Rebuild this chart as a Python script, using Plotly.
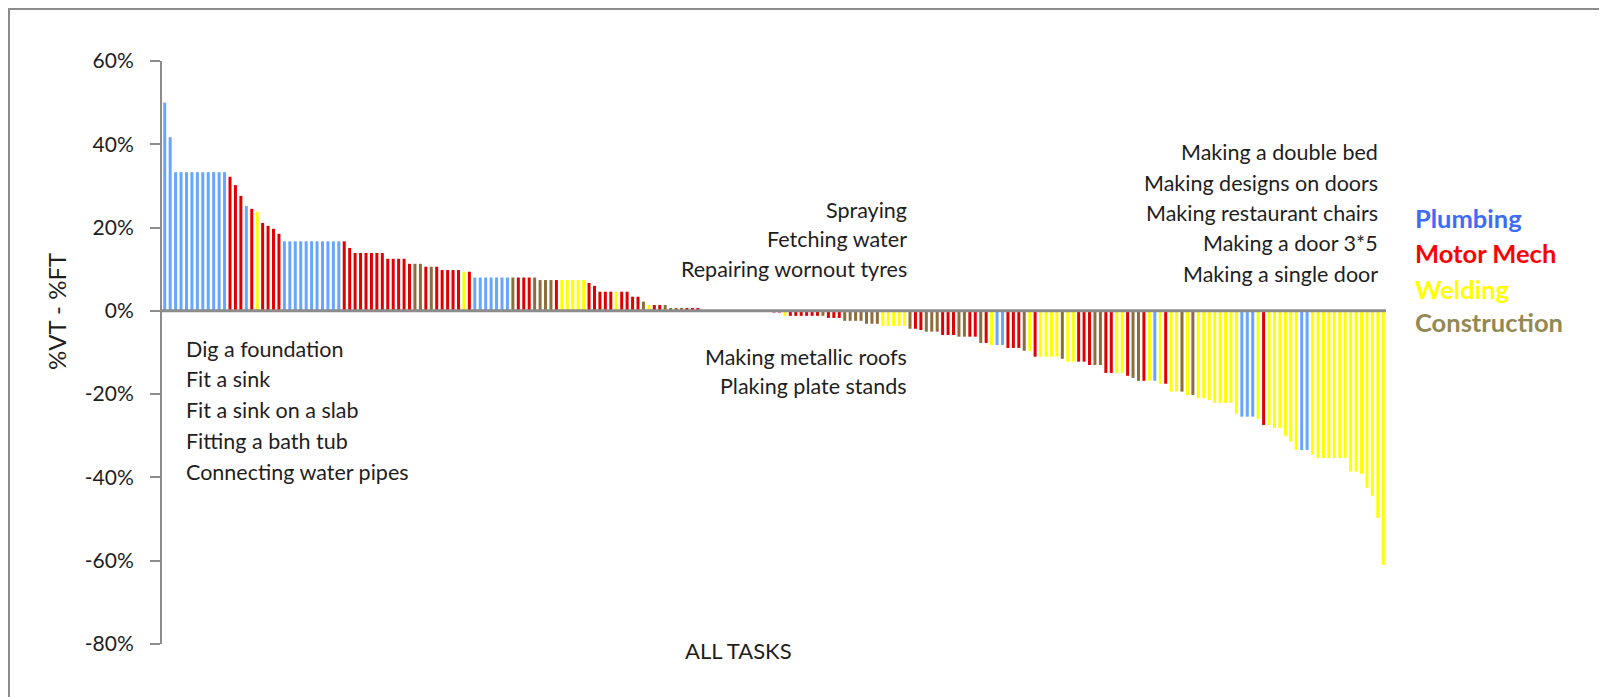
import plotly.graph_objects as go

# ---------------- data ----------------
# %VT - %FT for every task, sorted as in the chart (positive, near-zero, negative)
diffs_pos = [
    50.0, 41.7, 33.3, 33.3, 33.3, 33.3, 33.3, 33.3, 33.3, 33.3, 33.3, 33.3,
    32.2, 30.2, 27.6, 25.2, 24.5, 23.8, 21.1, 20.4, 19.7, 18.5,
    16.7, 16.7, 16.7, 16.7, 16.7, 16.7, 16.7, 16.7, 16.7, 16.7, 16.7,
    16.7, 15.1, 13.9,
    13.9, 13.9, 13.9, 13.9, 13.9,
    12.5, 12.5, 12.5, 12.5,
    11.3, 11.3, 11.3,
    10.6, 10.6, 10.6,
    9.8, 9.8, 9.8, 9.8,
    9.4, 9.4,
    8.0, 8.0, 8.0, 8.0, 8.0, 8.0, 8.0, 8.0, 8.0, 8.0, 8.0, 8.0,
    7.4, 7.4, 7.4,
    7.4, 7.4, 7.4, 7.4, 7.4, 7.4,
    6.7, 6.0,
    4.6, 4.6, 4.6, 4.6, 4.6, 4.6,
    3.4, 3.4,
    2.2,
    1.4, 1.4, 1.4, 1.4,
    0.7, 0.7, 0.7, 0.7, 0.7, 0.7,
]
trades_pos = [
    "P", "P", "P", "P", "P", "P", "P", "P", "P", "P", "P", "P",
    "M", "M", "M", "P", "M", "W", "M", "M", "M", "M",
    "P", "P", "P", "P", "P", "P", "P", "P", "P", "P", "P",
    "M", "M", "M",
    "M", "M", "M", "M", "M",
    "M", "M", "M", "M",
    "M", "C", "C",
    "M", "C", "M",
    "M", "M", "M", "M",
    "W", "M",
    "P", "P", "P", "P", "P", "P", "P", "C", "M", "M", "M", "C",
    "C", "C", "C",
    "M", "W", "W", "W", "W", "W",
    "M", "M",
    "M", "M", "M", "W", "M", "M",
    "M", "M",
    "C",
    "W", "M", "M", "C",
    "C", "C", "C", "M", "M", "M",
]
diffs_zero = [0, 0, 0, 0, 0, 0, 0, 0, 0, 0, 0, 0, 0]
trades_zero = ["C", "C", "C", "C", "C", "C", "C", "C", "C", "C", "C", "C", "C"]
diffs_neg = [
    -0.4, -0.4,
    -1.2, -1.2, -1.2, -1.2, -1.2, -1.2, -1.2, -1.2,
    -1.7, -1.7, -1.7,
    -2.4, -2.4, -2.4, -2.4,
    -3.1, -3.1, -3.1,
    -3.6, -3.6, -3.6, -3.6, -3.6,
    -4.3, -4.3, -4.6,
    -5.0, -5.0, -5.0,
    -5.8, -5.8, -5.8,
    -6.2, -6.2, -6.2, -6.2,
    -7.7, -7.7,
    -8.2, -8.2, -8.2,
    -8.9, -8.9, -8.9,
    -9.6, -9.6,
    -11.0, -11.0, -11.0, -11.0, -11.0,
    -11.5,
    -12.2, -12.2, -12.2, -12.2,
    -13.0, -13.0, -13.0,
    -14.9, -14.9, -14.9, -14.9,
    -15.6, -16.1,
    -16.8, -16.8, -16.8, -16.8,
    -17.5, -17.5,
    -19.4, -19.4, -19.4,
    -20.2, -20.2,
    -20.9, -20.9,
    -21.4,
    -22.1, -22.1, -22.1, -22.1,
    -24.7,
    -25.4, -25.4, -25.4,
    -25.9,
    -27.4, -27.4,
    -28.1, -28.1,
    -30.0, -31.4,
    -33.4, -33.4, -33.4,
    -34.6,
    -35.3, -35.3, -35.3, -35.3, -35.3, -35.3,
    -38.6, -38.6,
    -39.1, -42.5, -44.4, -49.7, -61.0,
]
trades_neg = [
    "M", "M",
    "W", "M", "M", "M", "M", "M", "M", "C",
    "M", "M", "M",
    "C", "C", "C", "C",
    "C", "C", "C",
    "W", "W", "W", "W", "W",
    "C", "M", "M",
    "C", "C", "C",
    "M", "M", "M",
    "C", "C", "M", "M",
    "C", "M",
    "W", "P", "P",
    "M", "M", "M",
    "C", "W",
    "M", "W", "W", "W", "W",
    "C",
    "W", "W", "M", "M",
    "M", "C", "C",
    "M", "M", "W", "W",
    "M", "C",
    "C", "M", "W", "P",
    "W", "M",
    "W", "W", "C",
    "W", "C",
    "W", "W",
    "W",
    "W", "W", "W", "W",
    "W",
    "P", "P", "P",
    "W",
    "M", "W",
    "W", "W",
    "W", "W",
    "W", "P", "P",
    "W",
    "W", "W", "W", "W", "W", "W",
    "W", "W",
    "W", "W", "W", "W", "W",
]

trade_names = {"P": "Plumbing", "M": "Motor Mech", "W": "Welding", "C": "Construction"}
bar_colors = {"P": "#66A6FF", "M": "#E00000", "W": "#FFFF00", "C": "#8C6D3C"}
legend_colors = {"P": "#3F6CF7", "M": "#FF0000", "W": "#FFFF00", "C": "#938953"}

left_labels = ["Dig a foundation", "Fit a sink", "Fit a sink on a slab",
               "Fitting a bath tub", "Connecting water pipes"]
mid_top_labels = ["Spraying", "Fetching water", "Repairing wornout tyres"]
mid_bottom_labels = ["Making metallic roofs", "Plaking plate stands"]
right_labels = ["Making a double bed", "Making designs on doors",
                "Making restaurant chairs", "Making a door 3*5", "Making a single door"]

y_ticks = [-80, -60, -40, -20, 0, 20, 40, 60]
y_tick_text = ["-80%", "-60%", "-40%", "-20%", "0%", "20%", "40%", "60%"]

# ---------------- figure ----------------
diffs = diffs_pos + diffs_zero + diffs_neg
trades = trades_pos + trades_zero + trades_neg
task_idx = list(range(1, len(diffs) + 1))

OFF = 8                      # page body margin
W, H = 1607 - OFF, 697 - OFF
PL, PR, PT, PB = 162, 1386, 61, 644   # plot area in screen pixels
ML, MT = PL - OFF, PT - OFF
MR = W - (PR - OFF)
MB = H - (PB - OFF)
PW, PH = PR - PL, PB - PT


def px(x):
    return (x - PL) / PW


def py(y):
    return (PB - y) / PH


FONT = "Lato, Carlito, Calibri, sans-serif"
TXT = "#1e1e1e"

fig = go.Figure()
for code in ["P", "M", "W", "C"]:
    xs = [i for i, t in zip(task_idx, trades) if t == code]
    ys = [v for v, t in zip(diffs, trades) if t == code]
    fig.add_trace(go.Bar(
        x=xs, y=ys, name=trade_names[code], width=0.55,
        marker=dict(color=bar_colors[code], line=dict(width=0)),
        hovertemplate="%{y:.1f}%<extra>" + trade_names[code] + "</extra>",
    ))

annotations = []
for i, t in enumerate(left_labels):
    annotations.append(dict(text=t, x=px(184), y=py(348.5 + 30.8 * i), xanchor="left"))
for i, t in enumerate(mid_top_labels):
    annotations.append(dict(text=t, x=px(909), y=py(210 + 29.5 * i), xanchor="right"))
for i, t in enumerate(mid_bottom_labels):
    annotations.append(dict(text=t, x=px(909), y=py(356.5 + 29 * i), xanchor="right"))
for i, t in enumerate(right_labels):
    annotations.append(dict(text=t, x=px(1380), y=py(152 + 30.5 * i), xanchor="right"))
for a in annotations:
    a.update(xref="paper", yref="paper", yanchor="middle", showarrow=False,
             font=dict(family=FONT, size=21.5, color=TXT))

legend_y = [218, 253, 289, 322]
for code, yy in zip(["P", "M", "W", "C"], legend_y):
    annotations.append(dict(text="<b>" + trade_names[code] + "</b>", x=px(1413), y=py(yy),
                            xref="paper", yref="paper", xanchor="left", yanchor="middle",
                            showarrow=False,
                            font=dict(family=FONT, size=25.5, color=legend_colors[code])))

annotations.append(dict(text="%VT - %FT", x=px(56), y=py(312), xref="paper", yref="paper",
                        textangle=-90, showarrow=False, xanchor="center", yanchor="middle",
                        font=dict(family=FONT, size=24, color=TXT)))
annotations.append(dict(text="ALL TASKS", x=px(738), y=py(650), xref="paper", yref="paper",
                        showarrow=False, xanchor="center", yanchor="middle",
                        font=dict(family=FONT, size=22, color=TXT)))

shapes = [
    dict(type="line", xref="paper", yref="y", x0=0, x1=1, y0=0, y1=0,
         line=dict(color="#8C8C8C", width=3), layer="above"),
    dict(type="rect", xref="paper", yref="paper", x0=px(OFF + 1), x1=px(1602), y0=py(760),
         y1=py(OFF + 1),
         line=dict(color="#8C8C8C", width=2), fillcolor="rgba(0,0,0,0)", layer="below"),
]

fig.update_layout(
    width=W, height=H,
    margin=dict(l=ML, r=MR, t=MT, b=MB, pad=0),
    paper_bgcolor="white", plot_bgcolor="white",
    barmode="overlay", showlegend=False,
    font=dict(family=FONT, size=20, color=TXT),
    annotations=annotations, shapes=shapes,
    xaxis=dict(range=[0.5, len(diffs) + 0.5], visible=False, fixedrange=True),
    yaxis=dict(range=[-80, 60], tickmode="array", tickvals=y_ticks, ticktext=y_tick_text,
               showgrid=False, zeroline=False, showline=True, linecolor="#8C8C8C",
               linewidth=2, ticks="outside", ticklen=10, tickwidth=2, tickcolor="#8C8C8C",
               ticklabelstandoff=12, tickfont=dict(family=FONT, size=21, color=TXT)),
)

fig.write_html("out.html")
